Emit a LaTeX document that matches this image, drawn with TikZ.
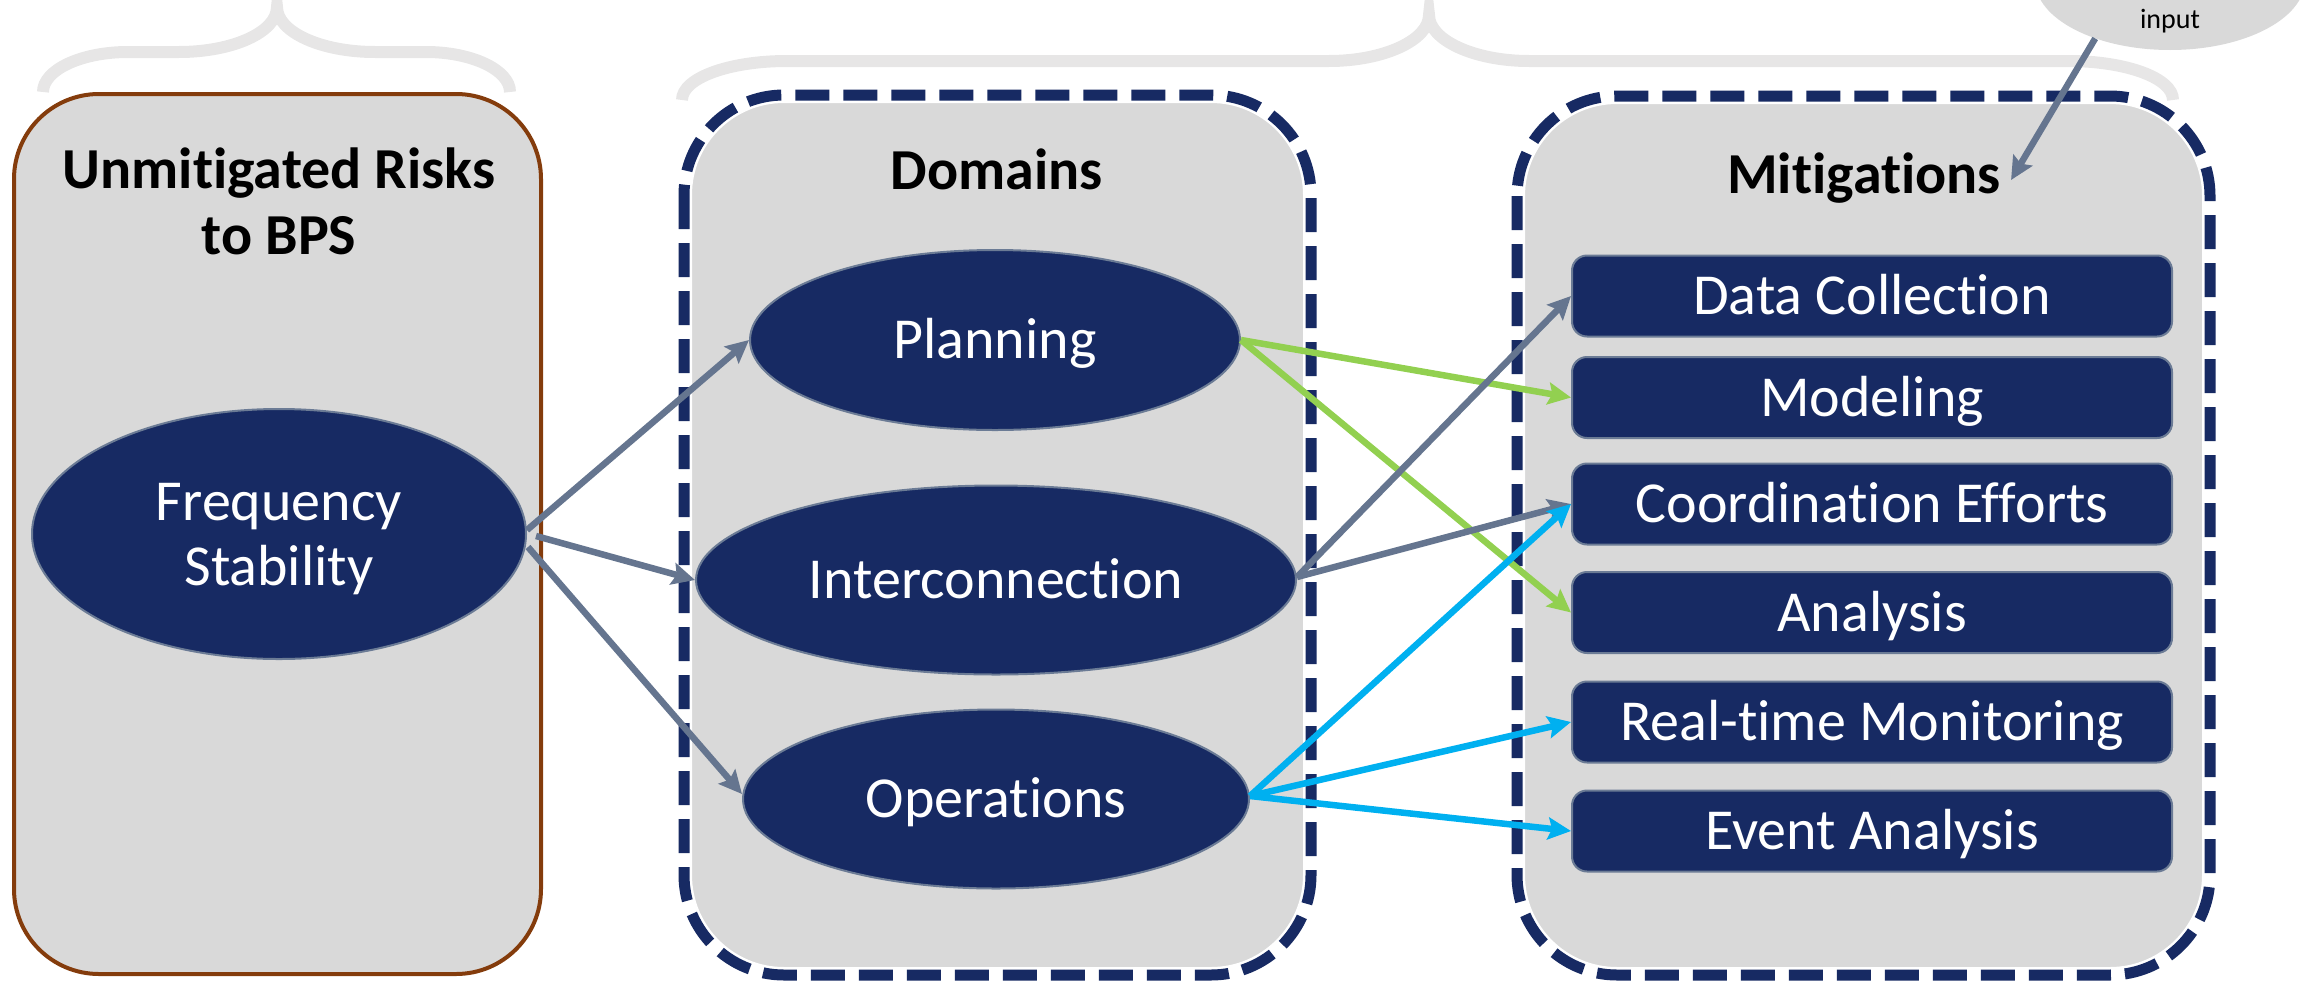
\documentclass[tikz,border=0pt]{standalone}
\usepackage{fontspec}
\setmainfont{Carlito}[Ligatures=NoCommon]
\usetikzlibrary{arrows.meta,shapes.geometric}
\definecolor{navy}{HTML}{172A63}
\definecolor{boxgray}{HTML}{D9D9D9}
\definecolor{brownline}{HTML}{843C0C}
\definecolor{slate}{HTML}{65758F}
\definecolor{edgeslate}{HTML}{6B7B95}
\definecolor{lgreen}{HTML}{92D050}
\definecolor{cyanarr}{HTML}{00B0F0}
\definecolor{bracegray}{HTML}{E7E6E6}
\tikzset{
  title/.style={font=\fontsize{58pt}{66pt}\selectfont\bfseries, text=black, inner sep=0pt, align=center},
  oval/.style={ellipse, fill=navy, draw=edgeslate, line width=2pt, inner sep=0pt, text=white,
    font=\fontsize{58pt}{66pt}\selectfont, align=center},
  mitbox/.style={rectangle, rounded corners=15pt, fill=navy, draw=edgeslate, line width=2pt,
    minimum width=600pt, minimum height=81pt, inner sep=0pt, text=white, text height=37pt, text depth=0pt,
    font=\fontsize{58pt}{66pt}\selectfont},
  arr/.style={line width=6.5pt, -{Stealth[length=23pt,width=22pt,inset=4pt]}},
  brace/.style={draw=bracegray, line width=12pt},
  dashbox/.style={draw=navy, line width=11pt, dash pattern=on 34pt off 14pt, rounded corners=100pt},
  dashunder/.style={draw=white, fill=boxgray, line width=16pt, rounded corners=100pt}
}
\begin{document}
\begin{tikzpicture}[x=1pt,y=-1pt]
\useasboundingbox (0,0) rectangle (2306,980);
\clip (0,0) rectangle (2306,980);
% braces
\draw[brace] (43,92) .. controls (43,70) and (81,52) .. (128,52) -- (179,52)
  .. controls (233,52) and (277,32) .. (277,7)
  .. controls (277,32) and (321,52) .. (375,52) -- (426,52)
  .. controls (472,52) and (510,70) .. (510,92);
\draw[brace] (682,100) .. controls (682,78) and (729,61) .. (787,61) -- (1329,61)
  .. controls (1384,61) and (1429,40) .. (1429,15)
  .. controls (1429,40) and (1474,61) .. (1529,61) -- (2068,61)
  .. controls (2126,61) and (2173,78) .. (2173,100);
% containers
\draw[draw=brownline, fill=boxgray, line width=4pt, rounded corners=85pt] (14,94) rectangle (541,974);
\path[dashunder] (684,95) rectangle (1311,975);
\path[dashbox] (684,95) rectangle (1311,975);
\path[dashunder] (1517,96) rectangle (2210,975);
\path[dashbox] (1517,96) rectangle (2210,975);
% input ellipse
\node[ellipse, fill=boxgray, minimum width=270pt, minimum height=140pt, inner sep=0pt] (inp) at (2170,-20) {};
\node[font=\fontsize{28pt}{32pt}\selectfont, anchor=base, inner sep=0pt] (inptext) at (2170,28) {input};
% titles
\node[title] (risk) at (279,201) {Unmitigated Risks\\to BPS};
\node[title, text height=37pt, text depth=0pt] (dom) at (997,171) {Domains};
\node[title, text height=37pt, text depth=0pt] (mit) at (1864,175) {Mitigations};
% ellipses
\node[oval, minimum width=494pt, minimum height=250pt] (fs) at (279,534) {};
\node[font=\fontsize{58pt}{65pt}\selectfont, text=white, align=center, inner sep=0pt] (fstext) at (279,539) {Frequency\\Stability};
\node[oval, minimum width=490pt, minimum height=180pt, text height=37pt, text depth=0pt] (plan) at (995,340) {Planning};
\node[oval, minimum width=600pt, minimum height=189pt, text height=37pt, text depth=0pt] (inter) at (996,580) {Interconnection};
\node[oval, minimum width=506pt, minimum height=179pt, text height=37pt, text depth=0pt] (ops) at (996,799) {Operations};
% mitigation boxes
\node[mitbox] (dc) at (1872,296) {Data Collection};
\node[mitbox] (mod) at (1872,397.5) {Modeling};
\node[mitbox] (coord) at (1872,504) {Coordination Efforts};
\node[mitbox] (ana) at (1872,612.5) {Analysis};
\node[mitbox] (rt) at (1872,722) {Real-time Monitoring};
\node[mitbox] (ea) at (1872,831) {Event Analysis};
% arrows
\draw[arr, slate] ([yshift=4pt]fs.east) -- (plan.west);
\draw[arr, slate] ([xshift=9pt,yshift=-2pt]fs.east) -- (inter.west);
\draw[arr, slate] ([xshift=1pt,yshift=-13pt]fs.east) -- ([yshift=5pt]ops.west);
\draw[arr, lgreen] (plan.east) -- (mod.west);
\draw[arr, lgreen] (plan.east) -- (ana.west);
\draw[arr, slate] ([yshift=3pt]inter.east) -- (dc.west);
\draw[arr, slate] ([yshift=3pt]inter.east) -- (coord.west);
\draw[arr, cyanarr] ([yshift=3pt]ops.east) -- (coord.west);
\draw[arr, cyanarr] ([yshift=3pt]ops.east) -- (rt.west);
\draw[arr, cyanarr] ([yshift=3pt]ops.east) -- (ea.west);
\draw[arr, slate] (inp.218) -- ([xshift=10pt,yshift=-5pt]mit.east);
\end{tikzpicture}
\end{document}
